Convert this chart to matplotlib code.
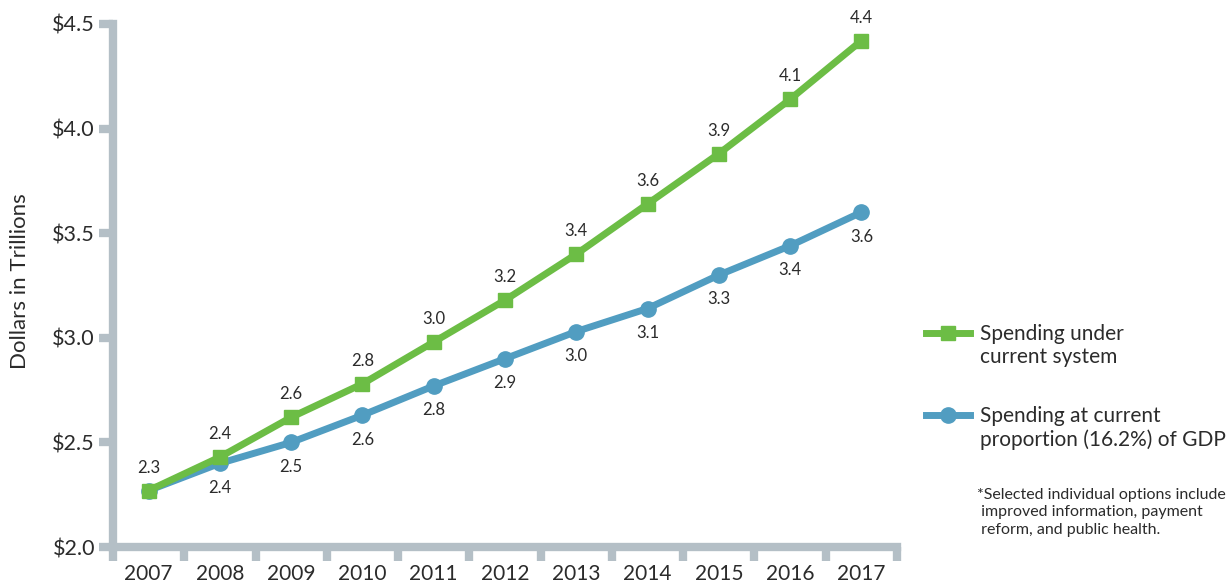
import matplotlib
matplotlib.use("Agg")
import matplotlib.pyplot as plt
from matplotlib.lines import Line2D
from matplotlib.ticker import FixedLocator, FuncFormatter

plt.rcParams["font.family"] = ["Lato", "DejaVu Sans"]

years = ["2007", "2008", "2009", "2010", "2011", "2012",
         "2013", "2014", "2015", "2016", "2017"]
current_system = [2.27, 2.43, 2.62, 2.78, 2.98, 3.18, 3.40, 3.64, 3.88, 4.14, 4.42]
gdp_share = [2.27, 2.40, 2.50, 2.63, 2.77, 2.90, 3.03, 3.14, 3.30, 3.44, 3.60]
y_ticks = [2.0, 2.5, 3.0, 3.5, 4.0, 4.5]

label_current = "Spending under\ncurrent system"
label_gdp = "Spending at current\nproportion (16.2%) of GDP"
footnote = ("*Selected individual options include\n"
            " improved information, payment\n"
            " reform, and public health.")

GREEN = "#6cbd45"
BLUE = "#519dc1"
AXIS = "#b4bfc6"
TEXT = "#2b2b2b"

W, H = 1232, 584
fig = plt.figure(figsize=(W / 100, H / 100), dpi=100)
ax = fig.add_axes([113 / W, 1 - 547 / H, (897 - 113) / W, (547 - 24) / H])

x = list(range(len(years)))
ax.plot(x, gdp_share, color=BLUE, lw=5, marker="o", ms=11,
        solid_capstyle="butt", zorder=3, clip_on=False)
ax.plot(x, current_system, color=GREEN, lw=5, marker="s", ms=10,
        solid_capstyle="butt", zorder=4, clip_on=False)

for i, v in enumerate(current_system):
    ax.annotate(f"{v:.1f}", (i, v), xytext=(0, 16.5), textcoords="offset points",
                ha="center", va="center", fontsize=12, color=TEXT)
for i, v in enumerate(gdp_share):
    if i == 0:
        continue
    ax.annotate(f"{v:.1f}", (i, v), xytext=(0, -17.5), textcoords="offset points",
                ha="center", va="center", fontsize=12, color=TEXT)

ax.set_xlim(-0.5, len(years) - 0.5)
ax.set_ylim(2.0, 4.5)

for side in ("top", "right"):
    ax.spines[side].set_visible(False)
for side in ("left", "bottom"):
    ax.spines[side].set_color(AXIS)
    ax.spines[side].set_linewidth(6)
    ax.spines[side].set_capstyle("projecting")

ax.set_yticks(y_ticks)
ax.yaxis.set_major_formatter(FuncFormatter(lambda v, p: f"${v:.1f}"))
ax.tick_params(axis="y", length=10, width=6, color=AXIS, labelsize=15.5,
               labelcolor=TEXT, pad=3)

ax.set_xticks(x)
ax.set_xticklabels(years)
ax.tick_params(axis="x", which="major", length=0, labelsize=15,
               labelcolor=TEXT, pad=12)
ax.xaxis.set_minor_locator(FixedLocator([i - 0.5 for i in range(len(years) + 1)]))
ax.tick_params(axis="x", which="minor", length=10, width=6, color=AXIS)

fig.text(20 / W, 1 - 281 / H, "Dollars in Trillions", rotation=90,
         ha="center", va="center", fontsize=16, color=TEXT)

# legend entries
for yc, color, marker, ms, text in [(333, GREEN, "s", 10, label_current),
                                    (415, BLUE, "o", 11, label_gdp)]:
    yf = 1 - yc / H
    fig.add_artist(Line2D([926 / W, 970 / W], [yf, yf], color=color, lw=5,
                          transform=fig.transFigure))
    fig.add_artist(Line2D([948 / W], [yf], color=color, marker=marker, ms=ms,
                          transform=fig.transFigure))
    fig.text(980 / W, 1 - (yc - 9) / H, text, ha="left", va="top",
             fontsize=15, color=TEXT, linespacing=1.2)

fig.text(977 / W, 1 - 488 / H, footnote, ha="left", va="top",
         fontsize=11.5, color=TEXT, linespacing=1.3)

fig.savefig("out.png", dpi=100)
